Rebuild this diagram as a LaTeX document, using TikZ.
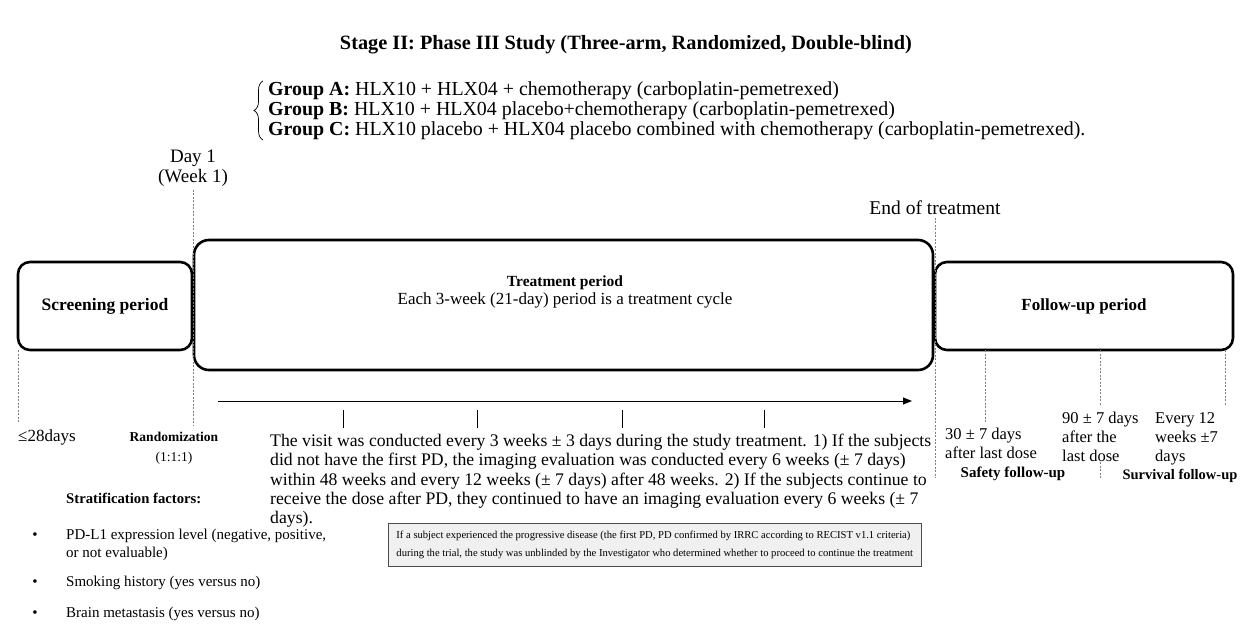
\documentclass[tikz,border=0pt]{standalone}
\usepackage{fontspec}
\setmainfont{Liberation Serif}
\usetikzlibrary{decorations.pathreplacing,arrows.meta}
\begin{document}
\begin{tikzpicture}[x=1pt,y=-1pt,
  period/.style={draw, line width=2.6pt, rounded corners=12pt, inner sep=0pt, font=\fontsize{17}{20}\selectfont\bfseries},
  guide/.style={draw=gray, line width=0.6pt, dash pattern=on 2pt off 1.5pt},
  lbl/.style={inner sep=0pt, font=\fontsize{19}{20}\selectfont},
  small/.style={inner sep=0pt, font=\fontsize{16.5}{19}\selectfont, align=left},
  tick/.style={line width=0.8pt},
  note/.style={draw=black!70, fill=black!6, line width=0.9pt, inner xsep=8pt, inner ysep=7.5pt, align=left, font=\fontsize{10.6}{18}\selectfont},
  bul/.style={inner sep=0pt, font=\fontsize{15}{17.5}\selectfont},
]
\useasboundingbox (0,0) rectangle (1253,628);

% title
\node[inner sep=0pt, font=\fontsize{20.3}{22}\selectfont\bfseries] (title) at (626,45) {Stage II: Phase III Study (Three-arm, Randomized, Double-blind)};

% groups
\node[inner sep=0pt, anchor=west, align=left, font=\fontsize{19.9}{20}\selectfont] (groups) at (268,111) {%
\textbf{Group A:} HLX10 + HLX04 + chemotherapy (carboplatin-pemetrexed)\\
\textbf{Group B:} HLX10 + HLX04 placebo+chemotherapy (carboplatin-pemetrexed)\\
\textbf{Group C:} HLX10 placebo + HLX04 placebo combined with chemotherapy (carboplatin-pemetrexed).};
\coordinate (bt) at (263,81);
\coordinate (bb) at (263,140);
\draw[line width=0.7pt, decorate, decoration={brace, amplitude=9pt}] (bb) -- (bt);

% top labels
\node[lbl, align=center] (day1) at (193,168) {Day 1\\(Week 1)};
\node[lbl, font=\fontsize{19.5}{20}\selectfont] (eot) at (935,208) {End of treatment};

% boxes
\node[period, font=\fontsize{17.5}{20}\selectfont\bfseries, minimum width=174pt, minimum height=88pt] (screen) at (105,306) {Screening period};
\node[period, rounded corners=15pt, minimum width=739pt, minimum height=130pt] (treat) at (563.5,305) {};
\node[inner sep=0pt, align=center, font=\fontsize{17}{18.5}\selectfont] (treattext) at (565,292) {{\fontsize{15.5}{18.5}\selectfont\bfseries Treatment period}\\Each 3-week (21-day) period is a treatment cycle};
\node[period, minimum width=298pt, minimum height=88pt] (follow) at (1084,306) {Follow-up period};

% guide lines
\coordinate (g0a) at (18,350); \coordinate (g0b) at (18,422);
\coordinate (g1a) at (193,190); \coordinate (g1b) at (193,425);
\coordinate (g2a) at (935,218); \coordinate (g2b) at (935,478);
\coordinate (g3a) at (985,350); \coordinate (g3b) at (985,422);
\coordinate (g4a) at (1100,350); \coordinate (g4b) at (1100,405);
\coordinate (g4c) at (1100,462); \coordinate (g4d) at (1100,478);
\coordinate (g5a) at (1225,350); \coordinate (g5b) at (1225,405);
\draw[guide] (g0a) -- (g0b);
\draw[guide] (g1a) -- (g1b);
\draw[guide] (g2a) -- (g2b);
\draw[guide] (g3a) -- (g3b);
\draw[guide] (g4a) -- (g4b);
\draw[guide] (g4c) -- (g4d);
\draw[guide] (g5a) -- (g5b);

% time arrow
\coordinate (as) at (218,401);
\coordinate (ae) at (912,401);
\draw[line width=1pt, -{Triangle[length=9pt,width=7pt]}] (as) -- (ae);
\foreach \x [count=\i] in {343,477,622,764}{
  \coordinate (t\i a) at (\x,410); \coordinate (t\i b) at (\x,428);
  \draw[tick] (t\i a) -- (t\i b);
}

% visit text
\node[small, anchor=north west, font=\fontsize{17.7}{19.3}\selectfont] (visit) at (270,434) {%
The visit was conducted every 3 weeks ± 3 days during the study treatment. 1) If the subjects\\
did not have the first PD, the imaging evaluation was conducted every 6 weeks (± 7 days)\\
within 48 weeks and every 12 weeks (± 7 days) after 48 weeks. 2) If the subjects continue to\\
receive the dose after PD, they continued to have an imaging evaluation every 6 weeks (± 7\\
days).};

% follow-up labels
\node[small, anchor=north west] (d30) at (945,428) {30 ± 7 days\\after last dose};
\node[small, anchor=north west] (d90) at (1062,412) {90 ± 7 days\\after the\\last dose};
\node[small, anchor=north west] (d12) at (1155,412) {Every 12\\weeks ±7\\days};
\node[inner sep=0pt, font=\fontsize{15}{17}\selectfont\bfseries] (safety) at (1013,474) {Safety follow-up};
\node[inner sep=0pt, font=\fontsize{14.5}{17}\selectfont\bfseries] (surv) at (1180,476) {Survival follow-up};

% bottom-left labels
\node[inner sep=0pt, anchor=west, font=\fontsize{17}{17}\selectfont] (d28) at (18,437) {≤28days};
\node[inner sep=0pt, align=center, font=\fontsize{13.5}{20}\selectfont] (rand) at (174,448) {\textbf{Randomization}\\(1:1:1)};
\node[inner sep=0pt, anchor=west, font=\fontsize{14.7}{16}\selectfont\bfseries] (strat) at (66,498) {Stratification factors:};
\node[bul] (b1) at (35,536) {•};
\node[bul] (b2) at (35,583) {•};
\node[bul] (b3) at (35,614) {•};
\node[bul, anchor=north west, align=left] (f1) at (66,529) {PD-L1 expression level (negative, positive,\\or not evaluable)};
\node[bul, anchor=west] (f2) at (66,583) {Smoking history (yes versus no)};
\node[bul, anchor=west] (f3) at (66,614) {Brain metastasis (yes versus no)};

% note box
\node[note, anchor=north west] (pdnote) at (388,523) {%
If a subject experienced the progressive disease (the first PD, PD confirmed by IRRC according to RECIST v1.1 criteria)\\
during the trial, the study was unblinded by the Investigator who determined whether to proceed to continue the treatment};
\end{tikzpicture}
\end{document}
